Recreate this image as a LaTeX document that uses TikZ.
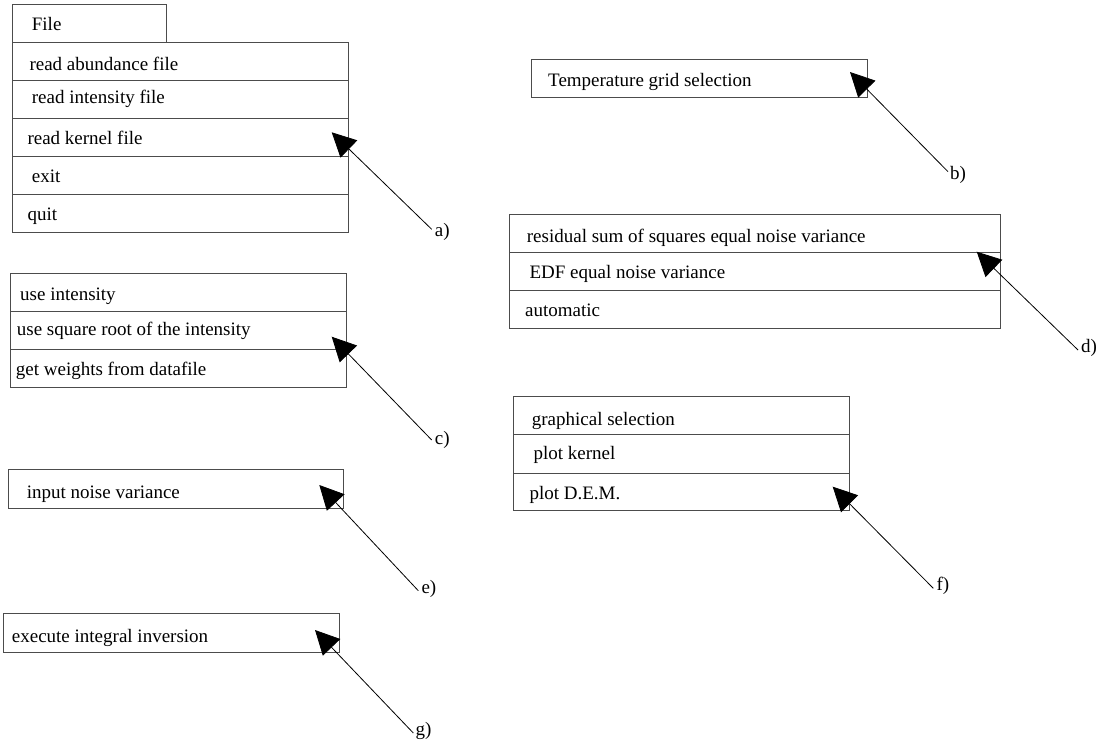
\documentclass[tikz,border=0pt]{standalone}
\usepackage{fontspec}
\setmainfont{Liberation Serif}
\usetikzlibrary{arrows.meta}
\tikzset{
  box/.style={draw=black!70, line width=1pt, rectangle, inner sep=0pt, anchor=north west},
  txt/.style={anchor=base west, inner sep=0pt, font=\fontsize{19}{23}\selectfont},
  lab/.style={anchor=west, inner sep=0pt, font=\fontsize{19}{23}\selectfont},
  ptr/.style={draw=black, line width=0.8pt, -{Triangle[length=24pt,width=24pt]}},
}
\newcommand{\boxat}[5]{% name, x1, y1, x2, y2
  \node[box, minimum width={#4-#2}, minimum height={#5-#3}] (#1) at (#2,#3) {};}
\begin{document}
\begin{tikzpicture}[x=1pt,y=-1pt]
\useasboundingbox (0,0) rectangle (1099,743);

% File menu
\boxat{filetab}{12.3}{4.3}{166}{42.3}
\boxat{f1}{12.3}{42.3}{347.7}{80}
\boxat{f2}{12.3}{80}{347.7}{117.7}
\boxat{f3}{12.3}{117.7}{347.7}{155.7}
\boxat{f4}{12.3}{155.7}{347.7}{193.7}
\boxat{f5}{12.3}{193.7}{347.7}{232}
\node[txt] (tfile) at (31.7,30.7) {File};
\node[txt] (tf1) at (29.3,71) {read abundance file};
\node[txt] (tf2) at (31.7,104) {read intensity file};
\node[txt] (tf3) at (27.3,145) {read kernel file};
\node[txt] (tf4) at (31.7,182.7) {exit};
\node[txt] (tf5) at (27.3,220.7) {quit};

% Temperature grid
\boxat{tg}{530.7}{59}{866.7}{96.7}
\node[txt] (ttg) at (548,86.7) {Temperature grid selection};

% Regularisation
\boxat{d1}{509}{214.3}{1000}{252.3}
\boxat{d2}{509}{252.3}{1000}{290}
\boxat{d3}{509}{290}{1000}{328.3}
\node[txt] (td1) at (526.7,242.5) {residual sum of squares equal noise variance};
\node[txt] (td2) at (529.3,278.5) {EDF equal noise variance};
\node[txt] (td3) at (525,316.7) {automatic};

% Weights
\boxat{c1}{10}{272.7}{345.7}{311}
\boxat{c2}{10}{311}{345.7}{349}
\boxat{c3}{10}{349}{345.7}{386.7}
\node[txt] (tc1) at (20,300) {use intensity};
\node[txt] (tc2) at (16.7,335) {use square root of the intensity};
\node[txt] (tc3) at (15.7,375) {get weights from datafile};

% Noise variance
\boxat{nv}{8.3}{469.3}{343.3}{507.7}
\node[txt] (tnv) at (26.7,498.5) {input noise variance};

% Graphics
\boxat{g1}{513.3}{396}{849.3}{434.3}
\boxat{g2}{513.3}{434.3}{849.3}{472.7}
\boxat{g3}{513.3}{472.7}{849.3}{510}
\node[txt] (tg1) at (531.7,425) {graphical selection};
\node[txt] (tg2) at (533.3,459.3) {plot kernel};
\node[txt] (tg3) at (529.3,499.3) {plot D.E.M.};

% Execute
\boxat{ex}{3.3}{613.3}{339.3}{651.7}
\node[txt] (tex) at (11.7,642.7) {execute integral inversion};

% pointers
\coordinate (pa) at (331.7,132.3); \coordinate (sa) at (431.7,229.3);
\coordinate (pb) at (850,72);      \coordinate (sb) at (948,171.7);
\coordinate (pc) at (331.7,336.7); \coordinate (sc) at (431.7,440);
\coordinate (pd) at (976.7,251.7); \coordinate (sd) at (1078,350);
\coordinate (pe) at (319.3,485);   \coordinate (se) at (418.3,590.7);
\coordinate (pf) at (832.7,486.7); \coordinate (sf) at (933.3,588.3);
\coordinate (pg) at (315,630);     \coordinate (sg) at (413.3,733);

\node[lab] (la) at ([shift={(3,3)}]sa) {a)};
\node[lab] (lb) at ([shift={(2,3)}]sb) {b)};
\node[lab] (lc) at ([shift={(3,0)}]sc) {c)};
\node[lab] (ld) at ([shift={(3,-2)}]sd) {d)};
\node[lab] (le) at ([shift={(3,-2)}]se) {e)};
\node[lab] (lf) at ([shift={(3,-2)}]sf) {f)};
\node[lab] (lg) at ([shift={(2,-2)}]sg) {g)};

\draw[ptr] (sa) -- (pa);
\draw[ptr] (sb) -- (pb);
\draw[ptr] (sc) -- (pc);
\draw[ptr] (sd) -- (pd);
\draw[ptr] (se) -- (pe);
\draw[ptr] (sf) -- (pf);
\draw[ptr] (sg) -- (pg);
\end{tikzpicture}
\end{document}
